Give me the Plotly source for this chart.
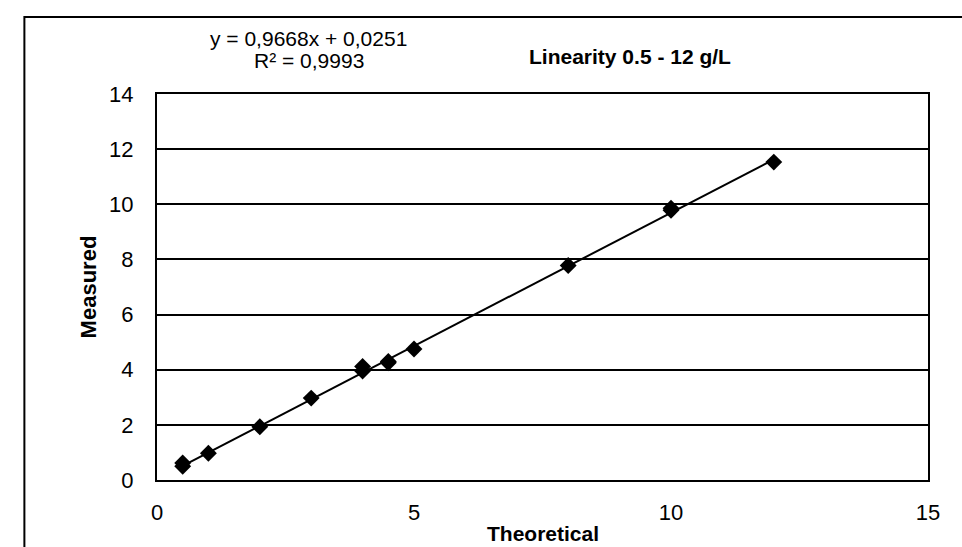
import plotly.graph_objects as go

theoretical = [0.5, 0.5, 1, 2, 3, 4, 4, 4.5, 4.5, 5, 8, 10, 10, 12]
measured = [0.5, 0.62, 0.97, 1.93, 2.97, 3.95, 4.12, 4.25, 4.3, 4.75, 7.78, 9.78, 9.86, 11.53]
slope = 0.9668
intercept = 0.0251
eq_text = "y = 0,9668x + 0,0251"
r2_text = "R² = 0,9993"
title_text = "Linearity 0.5 - 12 g/L"
x_ticks = [0, 5, 10, 15]
y_ticks = [0, 2, 4, 6, 8, 10, 12, 14]

FONT = "Liberation Sans, Arial, sans-serif"

x_line = [min(theoretical), max(theoretical)]
y_line = [slope * v + intercept for v in x_line]

fig = go.Figure()
fig.add_trace(go.Scatter(x=x_line, y=y_line, mode="lines",
                         line=dict(color="black", width=2), showlegend=False, hoverinfo="skip"))
fig.add_trace(go.Scatter(x=theoretical, y=measured, mode="markers",
                         marker=dict(symbol="diamond", size=13, color="black"),
                         showlegend=False))

fig.update_layout(
    width=962, height=547,
    margin=dict(l=157, r=34, t=94, b=67),
    paper_bgcolor="white", plot_bgcolor="white",
    font=dict(family=FONT, size=22, color="black"),
    xaxis=dict(range=[0, 15], tickvals=x_ticks, showgrid=False, zeroline=False,
               showline=True, linecolor="black", linewidth=2, mirror=True,
               ticks="outside", ticklen=12, tickcolor="rgba(0,0,0,0)",
               tickfont=dict(size=22, family=FONT)),
    yaxis=dict(range=[0, 14], tickvals=y_ticks, showgrid=True, gridcolor="black", gridwidth=1.5,
               zeroline=False, showline=True, linecolor="black", linewidth=2, mirror=True,
               ticks="outside", ticklen=17, tickcolor="rgba(0,0,0,0)",
               tickfont=dict(size=22, family=FONT)),
    annotations=[
        dict(text=eq_text, xref="paper", yref="paper", x=0.197, y=1.1425, showarrow=False,
             font=dict(size=21, family=FONT), xanchor="center", yanchor="middle"),
        dict(text=r2_text, xref="paper", yref="paper", x=0.197, y=1.0855, showarrow=False,
             font=dict(size=21, family=FONT), xanchor="center", yanchor="middle"),
        dict(text="<b>" + title_text + "</b>", xref="paper", yref="paper", x=0.613, y=1.096,
             showarrow=False, font=dict(size=21, family=FONT), xanchor="center", yanchor="middle"),
        dict(text="<b>Measured</b>", xref="paper", yref="paper", x=-0.089, y=0.5, textangle=-90,
             showarrow=False, font=dict(size=22, family=FONT), xanchor="center", yanchor="middle"),
        dict(text="<b>Theoretical</b>", xref="paper", yref="paper", x=0.5, y=-0.1385,
             showarrow=False, font=dict(size=21, family=FONT), xanchor="center", yanchor="middle"),
    ],
    shapes=[
        dict(type="rect", xref="paper", yref="paper", x0=-0.172, x1=1.2, y0=-0.4, y1=1.1995,
             line=dict(color="black", width=2), fillcolor="rgba(0,0,0,0)", layer="above"),
    ],
)

fig.write_html("out.html")
